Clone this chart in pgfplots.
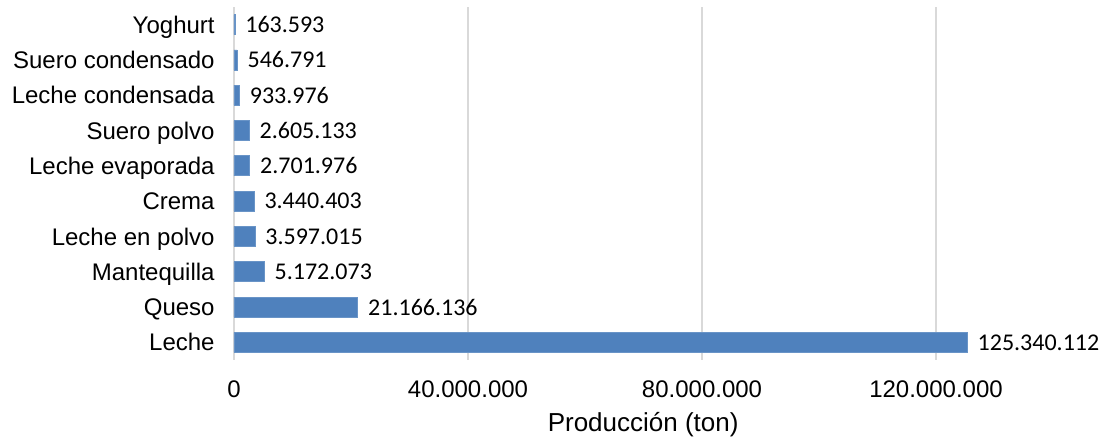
\documentclass[border=0pt]{standalone}
\usepackage{fontspec}
\setmainfont{Liberation Sans}
\newfontfamily\calfont{Carlito}
\usepackage{pgfplots}
\pgfplotsset{compat=1.18}
\usepackage{pgfplotstable}
\definecolor{barblue}{HTML}{4F81BD}
\definecolor{gridgray}{HTML}{D9D9D9}

\pgfplotstableread[col sep=comma]{
idx,val,lab
0,125340112,125.340.112
1,21166136,21.166.136
2,5172073,5.172.073
3,3597015,3.597.015
4,3440403,3.440.403
5,2701976,2.701.976
6,2605133,2.605.133
7,933976,933.976
8,546791,546.791
9,163593,163.593
}\prod

\begin{document}
\begin{tikzpicture}
\begin{axis}[
  at={(0,0)}, anchor=south west,
  scale only axis,
  width=428pt, height=176.5pt,
  xbar, bar width=10pt,
  xmin=0, xmax=146.32e6,
  ymin=-0.5, ymax=9.5,
  xtick={0,40e6,80e6,120e6},
  xticklabels={0,40.000.000,80.000.000,120.000.000},
  scaled x ticks=false,
  ytick={0,...,9},
  yticklabels={Leche,Queso,Mantequilla,Leche en polvo,Crema,Leche evaporada,Suero polvo,Leche condensada,Suero condensado,Yoghurt},
  major tick length=0pt,
  axis line style={draw=none},
  xmajorgrids,
  major grid style={gridgray, line width=1pt},
  xticklabel style={font=\fontsize{12}{14}\selectfont, anchor=base, inner sep=0pt, yshift=-19pt},
  yticklabel style={font=\fontsize{12}{14}\selectfont, anchor=base east, inner sep=0pt, xshift=-9.5pt, yshift=-4.3pt},
  xlabel={Producción (ton)},
  xlabel style={font=\fontsize{13}{15}\selectfont, at={(axis description cs:0.478,0)}, anchor=base, inner sep=0pt, yshift=-36pt},
  nodes near coords,
  point meta=explicit symbolic,
  every node near coord/.append style={font=\calfont\fontsize{12}{14}\selectfont, anchor=west, inner sep=0pt, xshift=5pt, text=black},
]
\addplot[fill=barblue, draw=barblue!85!white, line width=0.4pt] table[x=val, y=idx, meta=lab] {\prod};
\end{axis}
\pgfresetboundingbox
\path (-117pt,-39pt) rectangle (432.5pt,180pt);
\end{tikzpicture}
\end{document}
